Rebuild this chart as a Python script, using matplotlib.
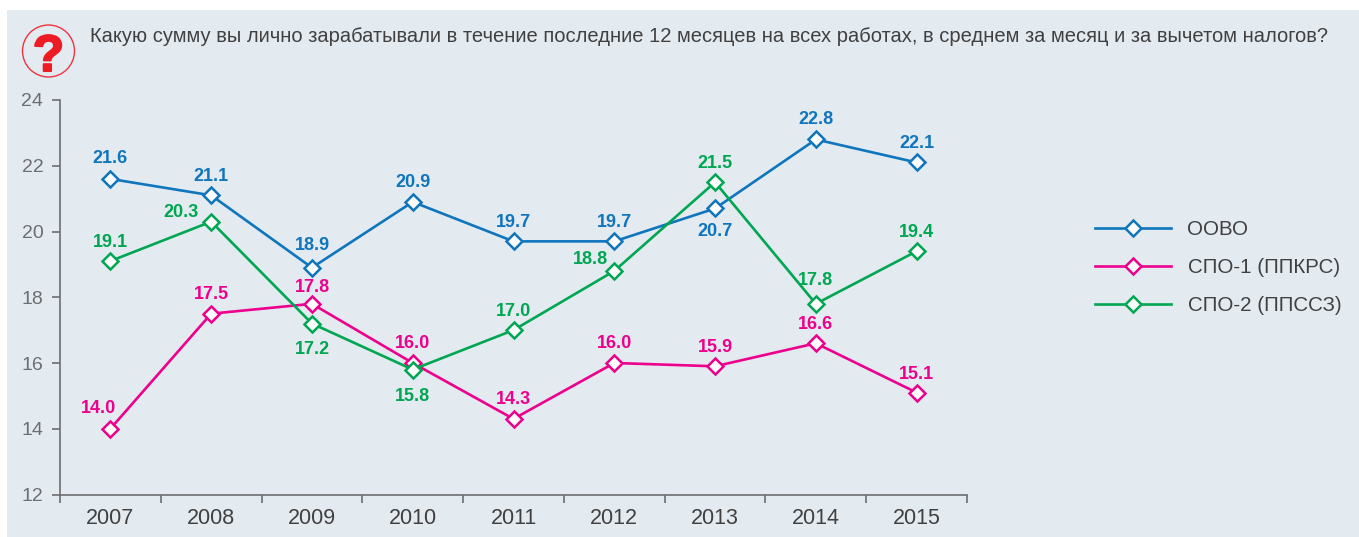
import matplotlib
matplotlib.use('Agg')
import matplotlib.pyplot as plt
import matplotlib.patheffects as pe
from matplotlib.patches import Rectangle, Circle

W, H = 1359, 537

years = ['2007', '2008', '2009', '2010', '2011', '2012', '2013', '2014', '2015']
oovo = [21.6, 21.1, 18.9, 20.9, 19.7, 19.7, 20.7, 22.8, 22.1]
spo1 = [14.0, 17.5, 17.8, 16.0, 14.3, 16.0, 15.9, 16.6, 15.1]
spo2 = [19.1, 20.3, 17.2, 15.8, 17.0, 18.8, 21.5, 17.8, 19.4]
yticks = [12, 14, 16, 18, 20, 22, 24]
title = 'Какую сумму вы лично зарабатывали в течение последние 12 месяцев на всех работах, в среднем за месяц и за вычетом налогов?'

# label offsets from the marker, pixels
off_oovo = [(0, 20), (0, 19), (0, 22), (0, 19), (0, 19), (0, 19), (0, -23), (0, 20), (0, 19)]
off_spo1 = [(-12, 20), (0, 19), (0, 16), (0, 20), (0, 19), (0, 20), (0, 19), (0, 19), (0, 18)]
off_spo2 = [(0, 19), (-30, 9), (0, -26), (0, -27), (0, 19), (-24, 11), (0, 19), (0, 23), (0, 19)]

blue = '#0F75BC'
pink = '#EC008C'
green = '#00A651'
grey = '#6D6E71'
dark = '#404041'

plt.rcParams['font.family'] = ['Liberation Sans', 'DejaVu Sans']

fig = plt.figure(figsize=(W / 100, H / 100), dpi=100, facecolor='white')
fig.add_artist(Rectangle((7 / W, 0), 1 - 7 / W, 1 - 10 / H, transform=fig.transFigure,
                         facecolor='#E3EBF1', edgecolor='none'))

# question icon
bg = fig.add_axes([0, 0, 1, 1], zorder=1)
bg.set_xlim(0, W)
bg.set_ylim(H, 0)
bg.axis('off')
bg.add_patch(Circle((48.5, 51), 26, facecolor='none', edgecolor='#EF3340', lw=1))
q = bg.text(48.5, 71, '?', color='#ED1C24', fontsize=37, fontweight='bold', ha='center', va='baseline')
q.set_path_effects([pe.withStroke(linewidth=1.5, foreground='#ED1C24')])
bg.text(90, 36, title, fontsize=14.54, color=dark, ha='left', va='center')

ax = fig.add_axes([60 / W, 1 - 494.5 / H, (967 - 60) / W, (494.5 - 100) / H], zorder=2)
ax.patch.set_alpha(0)
x = list(range(len(years)))


def draw(vals, offs, col, name):
    ax.plot(x, vals, color=col, lw=1.9, marker='D', ms=7.8, mfc='white', mec=col, mew=1.8,
            label=name, clip_on=False)
    for i, v in enumerate(vals):
        ax.annotate(f'{v:.1f}', (i, v), xytext=offs[i], textcoords='offset pixels', color=col,
                    fontsize=13, fontweight='bold', ha='center', va='center')


draw(oovo, off_oovo, blue, 'ООВО')
draw(spo1, off_spo1, pink, 'СПО-1 (ППКРС)')
draw(spo2, off_spo2, green, 'СПО-2 (ППССЗ)')

ax.set_xlim(-0.5, 8.5)
ax.set_ylim(12, 24)
ax.set_yticks(yticks)
ax.set_xticks([i - 0.5 for i in range(len(years) + 1)])
ax.set_xticklabels([])
ax.set_xticks(x, minor=True)
ax.set_xticklabels(years, minor=True)
ax.tick_params(axis='x', which='major', length=6, width=1.2, color=grey)
ax.tick_params(axis='x', which='minor', length=0, pad=10, labelsize=15.5, labelcolor=dark)
ax.tick_params(axis='y', length=6, width=1.2, color=grey, pad=6, labelsize=14, labelcolor=grey)
ax.spines['top'].set_visible(False)
ax.spines['right'].set_visible(False)
for s in ['left', 'bottom']:
    ax.spines[s].set_color(grey)
    ax.spines[s].set_linewidth(1.2)

leg = ax.legend(loc='center left', bbox_to_anchor=(1095 / W, 1 - 267.5 / H), bbox_transform=fig.transFigure,
                frameon=False, fontsize=14.8, handlelength=3.72, handletextpad=0.78, labelspacing=0.93,
                borderpad=0, borderaxespad=0, labelcolor=dark)

fig.savefig('out.png', dpi=100)
